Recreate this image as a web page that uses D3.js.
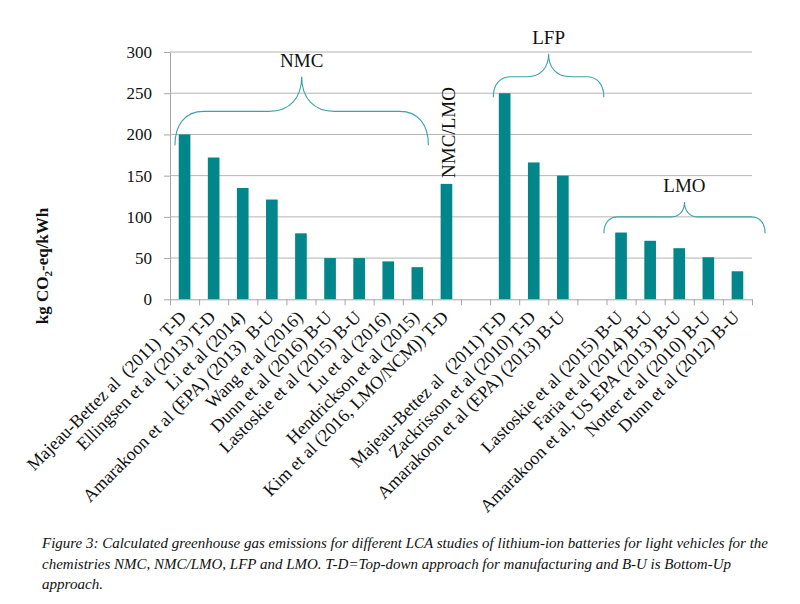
<!DOCTYPE html>
<html><head><meta charset="utf-8">
<script src="https://cdn.jsdelivr.net/npm/d3@7"></script>
<style>body{margin:0;background:#fff} svg{display:block}</style>
</head><body><svg id="c" width="800" height="604"></svg>
<script>
// ---- data ----
const categories = [
  "Majeau-Bettez al  (2011)  T-D",
  "Ellingsen et al (2013) T-D",
  "Li et al (2014)",
  "Amarakoon et al (EPA) (2013)  B-U",
  "Wang et al (2016)",
  "Dunn et al (2016) B-U",
  "Lastoskie et al (2015) B-U",
  "Lu et al (2016)",
  "Hendrickson et al (2015)",
  "Kim et al (2016, LMO/NCM)) T-D",
  "",
  "Majeau-Bettez al  (2011) T-D",
  "Zackrisson et al (2010) T-D",
  "Amarakoon et al (EPA) (2013) B-U",
  "",
  "Lastoskie et al (2015) B-U",
  "Faria et al (2014) B-U",
  "Amarakoon et al, US EPA (2013) B-U",
  "Notter et al (2010) B-U",
  "Dunn et al (2012) B-U"
];
const values = [200, 172, 135, 121, 80, 50, 50, 46, 39, 140, null, 250, 166, 150, null, 81, 71, 62, 51, 34];
const yTickValues = [0, 50, 100, 150, 200, 250, 300];
const groupLabels = ["NMC", "LFP", "LMO"];
const groupFrom = [0.17, 11.11, 14.91];      // category units
const groupTo = [8.88, 14.91, 20.45];
const groupEnd = [187, 245, 80];             // value units
const groupMid = [228, 270, 100];
const groupPeak = [270, 298, 118];
const barLabelIndex = 9;
const barLabelText = "NMC/LMO";
const yTitle = ["kg CO", "2", "-eq/kWh"];
const captionLines = [
  "Figure 3: Calculated greenhouse gas emissions for different LCA studies of lithium-ion batteries for light vehicles for the",
  "chemistries NMC, NMC/LMO, LFP and LMO. T-D=Top-down approach for manufacturing and B-U is Bottom-Up",
  "approach."
];
const captionWidths = [726, 689, 61];

// ---- layout ----
const svg = d3.select("#c");
const L = 170, R = 752, T = 52, B = 299.3;
const teal = "#00868b", braceCol = "#3aa3a8", gridCol = "#b4b4b4", axisCol = "#a6a6a6";
const serif = "'Liberation Serif', 'Times New Roman', serif";

const y = d3.scaleLinear().domain([0, 300]).range([B, T]);
const x = d3.scaleBand().domain(d3.range(categories.length)).range([L, R]).paddingInner(0.6).paddingOuter(0.3);
const xi = d3.scaleLinear().domain([0, categories.length]).range([L, R]);

// gridlines
svg.append("g").selectAll("line").data(yTickValues.filter(v => v > 0)).join("line")
  .attr("x1", L).attr("x2", R).attr("y1", d => y(d)).attr("y2", d => y(d))
  .attr("stroke", gridCol).attr("stroke-width", 1);

// y axis
const ya = svg.append("g").attr("transform", `translate(${L},0)`)
  .call(d3.axisLeft(y).tickValues(yTickValues).tickSize(6).tickSizeOuter(0).tickPadding(12));
ya.select(".domain").attr("stroke", axisCol);
ya.selectAll(".tick line").attr("stroke", axisCol);
ya.selectAll("text").attr("font-family", serif).attr("font-size", 17).attr("fill", "#111");

// bars
svg.append("g").selectAll("rect").data(values.map((v, i) => ({v, i})).filter(d => d.v != null)).join("rect")
  .attr("x", d => x(d.i)).attr("width", x.bandwidth())
  .attr("y", d => y(d.v)).attr("height", d => y(0) - y(d.v))
  .attr("fill", teal);

// x axis
const xa = svg.append("g").attr("transform", `translate(0,${B})`)
  .call(d3.axisBottom(xi).tickValues(d3.range(categories.length + 1)).tickSize(6).tickSizeOuter(0).tickFormat(""));
xa.select(".domain").attr("stroke", axisCol);
xa.selectAll(".tick line").attr("stroke", axisCol);

// category labels
svg.append("g").selectAll("text").data(categories).join("text")
  .attr("transform", (d, i) => `translate(${x(i) + x.bandwidth() / 2 + 3},${B + 19}) rotate(-45)`)
  .attr("text-anchor", "end")
  .attr("font-family", serif).attr("font-size", 18).attr("fill", "#111")
  .style("white-space", "pre")
  .text(d => d);

// braces
function bracePath(x0, x1, ye, ym, yp) {
  const xc = (x0 + x1) / 2;
  const h1 = ye - ym, h2 = ym - yp;
  const w1 = h1 * 0.85, w2 = h2 * 0.95;
  return `M${x0},${ye} C${x0},${ye - h1 * 0.6} ${x0 + w1 * 0.35},${ym} ${x0 + w1},${ym}` +
    ` L${xc - w2},${ym} C${xc - w2 * 0.35},${ym} ${xc},${ym - h2 * 0.4} ${xc},${yp}` +
    ` C${xc},${ym - h2 * 0.4} ${xc + w2 * 0.35},${ym} ${xc + w2},${ym}` +
    ` L${x1 - w1},${ym} C${x1 - w1 * 0.35},${ym} ${x1},${ye - h1 * 0.6} ${x1},${ye}`;
}
const gb = svg.append("g");
groupLabels.forEach((lab, k) => {
  const x0 = xi(groupFrom[k]), x1 = xi(groupTo[k]);
  gb.append("path").attr("d", bracePath(x0, x1, y(groupEnd[k]), y(groupMid[k]), y(groupPeak[k])))
    .attr("fill", "none").attr("stroke", braceCol).attr("stroke-width", 1.1);
  gb.append("text").attr("x", (x0 + x1) / 2).attr("y", y(groupPeak[k]) - 10)
    .attr("text-anchor", "middle").attr("font-family", serif).attr("font-size", 19).attr("fill", "#111")
    .text(lab);
});

// vertical label above the NMC/LMO bar
svg.append("text")
  .attr("transform", `translate(${x(barLabelIndex) + x.bandwidth() / 2 + 8.5},${y(values[barLabelIndex]) - 6}) rotate(-90)`)
  .attr("font-family", serif).attr("font-size", 19).attr("fill", "#111")
  .text(barLabelText);

// y title
const yt = svg.append("text")
  .attr("transform", `translate(48,266) rotate(-90)`)
  .attr("text-anchor", "middle")
  .attr("font-family", serif).attr("font-size", 17).attr("font-weight", "bold").attr("fill", "#111");
yt.append("tspan").text(yTitle[0]);
yt.append("tspan").attr("font-size", 11).attr("dy", 4).text(yTitle[1]);
yt.append("tspan").attr("dy", -4).text(yTitle[2]);

// caption
svg.append("g").selectAll("text").data(captionLines).join("text")
  .attr("x", 42).attr("y", (d, i) => 548 + i * 20.5)
  .attr("font-family", serif).attr("font-style", "italic").attr("font-size", 15.5).attr("fill", "#111")
  .attr("textLength", (d, i) => captionWidths[i]).attr("lengthAdjust", "spacingAndGlyphs")
  .text(d => d);
</script>
</body></html>
